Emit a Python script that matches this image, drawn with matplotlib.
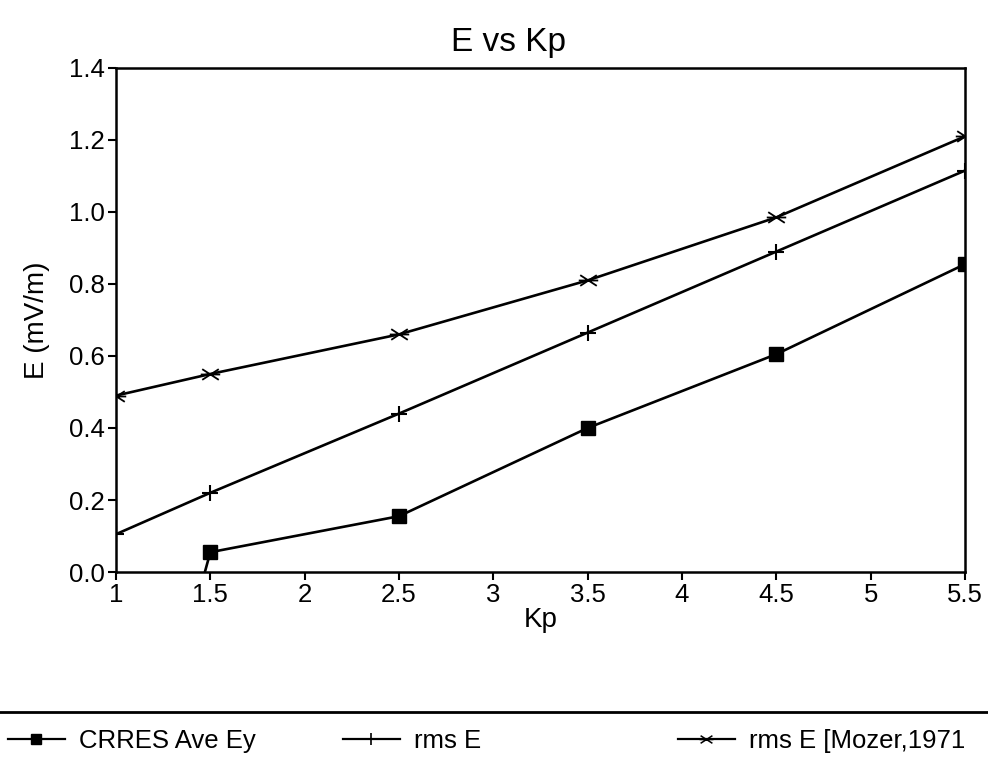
import matplotlib
matplotlib.use("Agg")
import matplotlib.pyplot as plt
from matplotlib.lines import Line2D
from matplotlib.path import Path

plt.rcParams['font.family'] = ['Liberation Sans', 'DejaVu Sans']

# Kp bins and field values (mV/m)
kp = [1.0, 1.5, 2.5, 3.5, 4.5, 5.5]
crres_ave_ey = [-0.9, 0.055, 0.155, 0.40, 0.605, 0.855]
rms_e = [0.105, 0.22, 0.44, 0.665, 0.89, 1.115]
rms_e_mozer = [0.49, 0.55, 0.66, 0.81, 0.985, 1.21]

x_ticks = [1, 1.5, 2, 2.5, 3, 3.5, 4, 4.5, 5, 5.5]
x_tick_labels = ['1', '1.5', '2', '2.5', '3', '3.5', '4', '4.5', '5', '5.5']
y_ticks = [0.0, 0.2, 0.4, 0.6, 0.8, 1.0, 1.2, 1.4]
y_tick_labels = ['0.0', '0.2', '0.4', '0.6', '0.8', '1.0', '1.2', '1.4']

labels = ['CRRES Ave Ey', 'rms E', 'rms E [Mozer,1971']

# asterisk-like marker: horizontal bar crossed by a flat "x"
star = Path([(-1, 0), (1, 0),
             (-0.85, -0.55), (0.85, 0.55),
             (-0.85, 0.55), (0.85, -0.55)],
            [Path.MOVETO, Path.LINETO] * 3)

fig = plt.figure(figsize=(9.88, 7.68), dpi=100)
ax = fig.add_axes([0.1174, 0.2552, 0.8593, 0.6563])

ax.plot(kp, crres_ave_ey, color='black', lw=1.9, marker='s',
        markersize=10, markerfacecolor='black')
ax.plot(kp, rms_e, color='black', lw=1.9, marker='+',
        markersize=12, markeredgewidth=1.5)
ax.plot(kp, rms_e_mozer, color='black', lw=1.9, marker=star,
        markersize=14, markeredgewidth=1.3)

ax.set_xlim(1, 5.5)
ax.set_ylim(0, 1.4)
ax.set_xticks(x_ticks)
ax.set_xticklabels(x_tick_labels)
ax.set_yticks(y_ticks)
ax.set_yticklabels(y_tick_labels)
ax.tick_params(direction='out', length=6, width=1.5, labelsize=18.5, pad=2,
               colors='black')
for s in ax.spines.values():
    s.set_linewidth(1.8)

ax.set_title('E vs Kp', fontsize=24, x=0.462, pad=12)
ax.set_xlabel('Kp', fontsize=20, labelpad=0)
ax.set_ylabel('E (mV/m)', fontsize=20, labelpad=14)

# separator above the legend row
sep_y = 1 - 712 / 768
fig.add_artist(Line2D([0, 1], [sep_y, sep_y], transform=fig.transFigure,
                      color='black', lw=2))

# legend entries laid out along the bottom
handles = [
    Line2D([], [], color='black', lw=1.6, marker='s', markersize=7),
    Line2D([], [], color='black', lw=1.6, marker='+', markersize=9,
           markeredgewidth=1.2),
    Line2D([], [], color='black', lw=1.6, marker=star, markersize=10,
           markeredgewidth=1.1),
]
x_positions = [8 / 988, 343 / 988, 678 / 988]
for handle, label, xp in zip(handles, labels, x_positions):
    fig.legend([handle], [label], loc='center left',
               bbox_to_anchor=(xp, 1 - 741 / 768), frameon=False,
               fontsize=18.5, handlelength=2.2, handletextpad=0.55,
               borderaxespad=0, borderpad=0)

fig.savefig('out.png', dpi=100)
